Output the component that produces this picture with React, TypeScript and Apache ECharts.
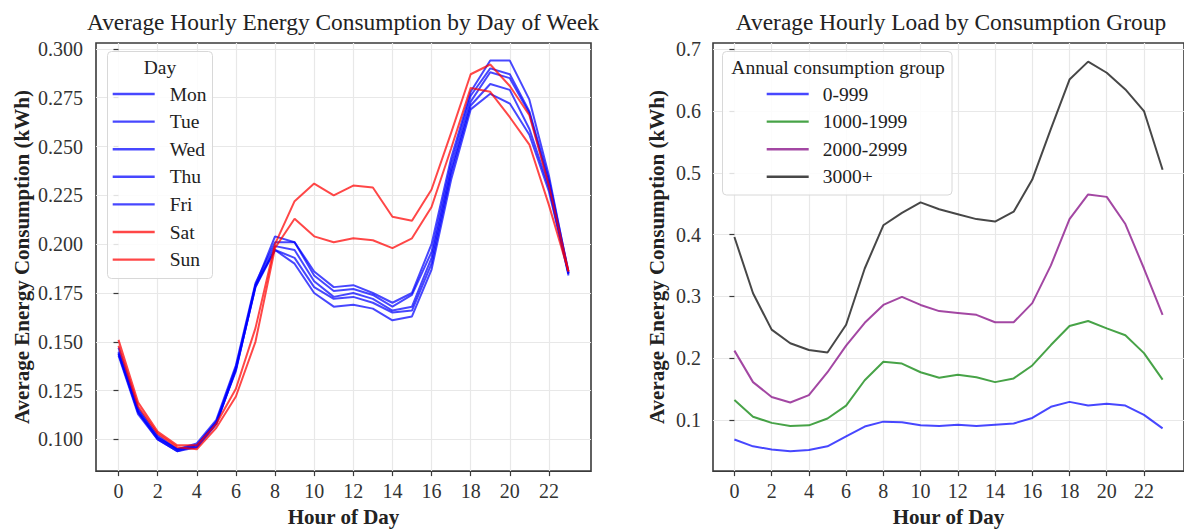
import React, { useEffect, useRef } from "react";
import * as echarts from "echarts";

const hours = [0, 1, 2, 3, 4, 5, 6, 7, 8, 9, 10, 11, 12, 13, 14, 15, 16, 17, 18, 19, 20, 21, 22, 23];
const xTicks = [0, 2, 4, 6, 8, 10, 12, 14, 16, 18, 20, 22];
const leftYTicks = [0.1, 0.125, 0.15, 0.175, 0.2, 0.225, 0.25, 0.275, 0.3];
const rightYTicks = [0.1, 0.2, 0.3, 0.4, 0.5, 0.6, 0.7];

const days = ["Mon", "Tue", "Wed", "Thu", "Fri", "Sat", "Sun"];
const dayColors = ["#0000ff", "#0000ff", "#0000ff", "#0000ff", "#0000ff", "#ff0000", "#ff0000"];
const mon = [0.147, 0.116, 0.102, 0.095, 0.097, 0.109, 0.137, 0.179, 0.204, 0.201, 0.186, 0.178, 0.179, 0.175, 0.170, 0.175, 0.200, 0.244, 0.278, 0.294, 0.294, 0.274, 0.235, 0.185];
const tue = [0.145, 0.115, 0.101, 0.095, 0.098, 0.110, 0.138, 0.180, 0.201, 0.201, 0.184, 0.176, 0.177, 0.174, 0.168, 0.174, 0.196, 0.241, 0.276, 0.290, 0.287, 0.268, 0.233, 0.186];
const wed = [0.144, 0.114, 0.100, 0.094, 0.096, 0.108, 0.136, 0.178, 0.199, 0.197, 0.181, 0.173, 0.175, 0.172, 0.166, 0.168, 0.193, 0.238, 0.273, 0.288, 0.285, 0.267, 0.231, 0.185];
const thu = [0.143, 0.113, 0.100, 0.094, 0.097, 0.109, 0.135, 0.179, 0.197, 0.193, 0.178, 0.172, 0.173, 0.170, 0.165, 0.166, 0.190, 0.236, 0.271, 0.282, 0.279, 0.259, 0.229, 0.184];
const fri = [0.144, 0.114, 0.101, 0.095, 0.096, 0.108, 0.136, 0.178, 0.197, 0.190, 0.175, 0.168, 0.169, 0.167, 0.161, 0.163, 0.187, 0.233, 0.269, 0.277, 0.272, 0.256, 0.227, 0.185];
const sat = [0.151, 0.119, 0.104, 0.097, 0.097, 0.108, 0.126, 0.157, 0.200, 0.222, 0.231, 0.225, 0.230, 0.229, 0.214, 0.212, 0.228, 0.257, 0.287, 0.292, 0.281, 0.266, 0.230, 0.186];
const sun = [0.148, 0.117, 0.103, 0.096, 0.095, 0.106, 0.122, 0.150, 0.198, 0.213, 0.204, 0.201, 0.203, 0.202, 0.198, 0.203, 0.219, 0.249, 0.280, 0.278, 0.265, 0.251, 0.220, 0.186];
const dayValues = [mon, tue, wed, thu, fri, sat, sun];

const groups = ["0-999", "1000-1999", "2000-2999", "3000+"];
const groupColors = ["#0000ff", "#008000", "#800080", "#000000"];
const g0 = [0.068, 0.057, 0.052, 0.049, 0.051, 0.057, 0.073, 0.089, 0.097, 0.096, 0.091, 0.090, 0.092, 0.090, 0.092, 0.094, 0.103, 0.121, 0.129, 0.123, 0.126, 0.123, 0.108, 0.086];
const g1 = [0.132, 0.105, 0.095, 0.090, 0.091, 0.102, 0.123, 0.164, 0.194, 0.191, 0.177, 0.168, 0.173, 0.169, 0.161, 0.167, 0.188, 0.221, 0.252, 0.260, 0.248, 0.237, 0.208, 0.165];
const g2 = [0.212, 0.161, 0.137, 0.128, 0.140, 0.177, 0.220, 0.257, 0.286, 0.299, 0.286, 0.276, 0.273, 0.270, 0.258, 0.258, 0.289, 0.350, 0.425, 0.465, 0.461, 0.417, 0.345, 0.270];
const g3 = [0.396, 0.305, 0.246, 0.224, 0.213, 0.209, 0.254, 0.345, 0.415, 0.435, 0.452, 0.441, 0.433, 0.425, 0.421, 0.437, 0.489, 0.571, 0.651, 0.680, 0.662, 0.635, 0.600, 0.505];
const groupValues = [g0, g1, g2, g3];

const FONT = "Liberation Serif";

export default function App() {
  const ref = useRef<HTMLDivElement>(null);
  useEffect(() => {
    if (!ref.current) return;
    const chart = echarts.init(ref.current, undefined, { renderer: "svg" });

    const frame = { show: true, borderColor: "#3a3a3a", borderWidth: 1.6 };
    const tickStyle = { color: "#3a3a3a", width: 1.2 };
    const gridLine = { show: true, lineStyle: { color: "#e8e8e8", width: 1.2 } };
    const axisName = { fontFamily: FONT, fontWeight: "bold" as const, fontSize: 21, color: "#222" };
    const labelStyle = { fontFamily: FONT, fontSize: 20, color: "#333" };

    const makeX = (gi: number) => ({
      gridIndex: gi,
      type: "value",
      min: -1.15,
      max: 24.15,
      name: "Hour of Day",
      nameLocation: "middle",
      nameGap: 34,
      nameTextStyle: axisName,
      axisLine: { show: false },
      axisTick: { show: true, length: 5, customValues: xTicks, lineStyle: tickStyle },
      axisLabel: { ...labelStyle, customValues: xTicks, margin: 10 },
      splitLine: gridLine,
    });

    const series: any[] = [];
    days.forEach((d, i) => {
      series.push({
        name: d,
        type: "line",
        xAxisIndex: 0,
        yAxisIndex: 0,
        symbol: "none",
        color: dayColors[i],
        lineStyle: { width: 2, color: dayColors[i], opacity: 0.72 },
        data: hours.map((h, k) => [h, dayValues[i][k]]),
      });
    });
    groups.forEach((g, i) => {
      series.push({
        name: g,
        type: "line",
        xAxisIndex: 1,
        yAxisIndex: 1,
        symbol: "none",
        color: groupColors[i],
        lineStyle: { width: 2, color: groupColors[i], opacity: 0.72 },
        data: hours.map((h, k) => [h, groupValues[i][k]]),
      });
    });

    const legendText = { fontFamily: FONT, fontSize: 19.5, color: "#222", lineHeight: 20, padding: [0, 0, 0, 10] };
    const legendBase = {
      orient: "vertical",
      top: 84,
      padding: 0,
      icon: "rect",
      itemWidth: 42,
      itemHeight: 2.4,
      itemGap: 7.6,
      itemStyle: { opacity: 0.72 },
    };

    chart.setOption({
      animation: false,
      textStyle: { fontFamily: FONT },
      grid: [
        { left: 96, top: 43, width: 495, height: 434, ...frame },
        { left: 713, top: 43, width: 476, height: 434, ...frame },
      ],
      xAxis: [makeX(0), makeX(1)],
      yAxis: [
        {
          gridIndex: 0,
          type: "value",
          min: 0.0838,
          max: 0.303,
          name: "Average Energy Consumption (kWh)",
          nameLocation: "middle",
          nameGap: 64,
          nameTextStyle: axisName,
          axisLine: { show: false },
          axisTick: { show: true, length: 5, customValues: leftYTicks, lineStyle: tickStyle },
          axisLabel: { ...labelStyle, customValues: leftYTicks, margin: 13, formatter: (v: number) => v.toFixed(3) },
          splitLine: gridLine,
        },
        {
          gridIndex: 1,
          type: "value",
          min: 0.0169,
          max: 0.7102,
          name: "Average Energy Consumption (kWh)",
          nameLocation: "middle",
          nameGap: 46,
          nameTextStyle: axisName,
          axisLine: { show: false },
          axisTick: { show: true, length: 5, customValues: rightYTicks, lineStyle: tickStyle },
          axisLabel: { ...labelStyle, customValues: rightYTicks, margin: 12, formatter: (v: number) => v.toFixed(1) },
          splitLine: gridLine,
        },
      ],
      legend: [
        { ...legendBase, left: 112.7, data: days, textStyle: legendText },
        { ...legendBase, left: 766.7, data: groups, textStyle: { ...legendText, padding: [0, 0, 0, 9] } },
      ],
      graphic: [
        {
          type: "text",
          x: 343,
          y: 22,
          style: { text: "Average Hourly Energy Consumption by Day of Week", font: `23.4px "${FONT}"`, fill: "#222", textAlign: "center", textVerticalAlign: "middle" },
        },
        {
          type: "text",
          x: 951,
          y: 22,
          style: { text: "Average Hourly Load by Consumption Group", font: `23.4px "${FONT}"`, fill: "#222", textAlign: "center", textVerticalAlign: "middle" },
        },
        {
          type: "rect",
          z: 3,
          shape: { x: 107.5, y: 51.5, width: 105, height: 227, r: 4 },
          style: { fill: "rgba(255,255,255,0.85)", stroke: "#d8d8d8", lineWidth: 1 },
        },
        {
          type: "text",
          z: 4,
          x: 160,
          y: 67.5,
          style: { text: "Day", font: `19.5px "${FONT}"`, fill: "#222", textAlign: "center", textVerticalAlign: "middle" },
        },
        {
          type: "rect",
          z: 3,
          shape: { x: 722.5, y: 51.5, width: 229.5, height: 143.5, r: 4 },
          style: { fill: "rgba(255,255,255,0.85)", stroke: "#d8d8d8", lineWidth: 1 },
        },
        {
          type: "text",
          z: 4,
          x: 838,
          y: 67.5,
          style: { text: "Annual consumption group", font: `19.5px "${FONT}"`, fill: "#222", textAlign: "center", textVerticalAlign: "middle" },
        },
      ],
      series,
    });
    return () => chart.dispose();
  }, []);
  return <div ref={ref} style={{ position: "absolute", left: 0, top: 0, width: 1184, height: 532 }} />;
}
